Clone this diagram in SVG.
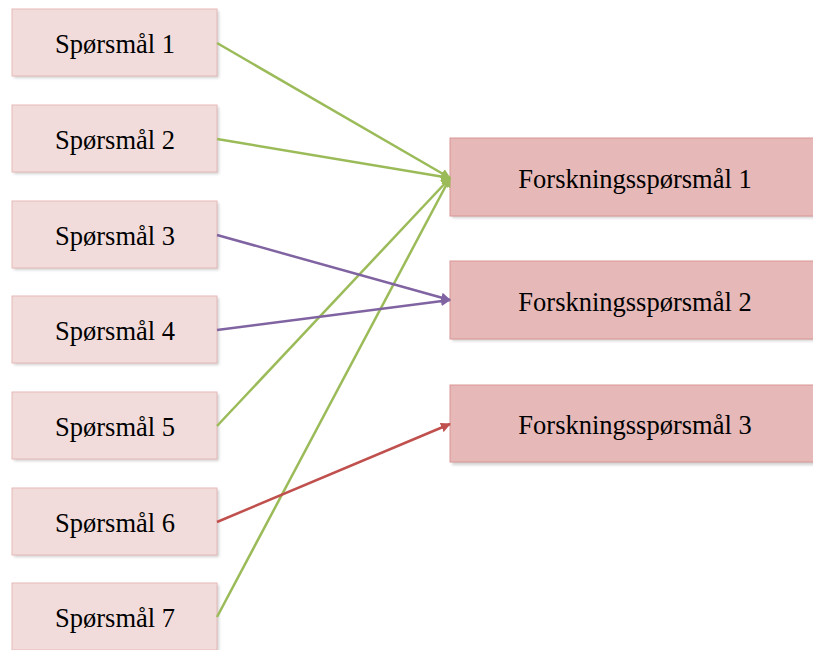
<svg xmlns="http://www.w3.org/2000/svg" width="813" height="650" viewBox="0 0 813 650">
<style>
.q rect.b{fill:#f2dcdb;stroke:#e6b9b8;stroke-width:1}
.f rect.b{fill:#e6b9b8;stroke:#d99694;stroke-width:1}
rect.s{fill:#000;opacity:0.18}
text{font-family:"Liberation Serif","Times New Roman",serif;font-size:26.5px;fill:#000;text-anchor:middle;dominant-baseline:central}
.c line{stroke-width:2.5}
</style>
<defs>
<filter id="sh" x="-10%" y="-10%" width="120%" height="130%"><feGaussianBlur stdDeviation="1.5"/></filter>
<marker id="mg" viewBox="0 0 10 10" refX="9" refY="5" markerWidth="4" markerHeight="4" orient="auto" markerUnits="strokeWidth"><path d="M0,0 L10,5 L0,10 z" fill="#9bbb59"/></marker>
<marker id="mp" viewBox="0 0 10 10" refX="9" refY="5" markerWidth="4" markerHeight="4" orient="auto" markerUnits="strokeWidth"><path d="M0,0 L10,5 L0,10 z" fill="#8064a2"/></marker>
<marker id="mr" viewBox="0 0 10 10" refX="9" refY="5" markerWidth="4" markerHeight="4" orient="auto" markerUnits="strokeWidth"><path d="M0,0 L10,5 L0,10 z" fill="#c0504d"/></marker>
</defs>
<g id="q1" class="q"><rect class="s" x="14" y="11" width="205" height="67" filter="url(#sh)"/><rect class="b" x="12" y="9" width="205" height="67"/><text x="115" y="44">Spørsmål 1</text></g>
<g id="q2" class="q"><rect class="s" x="14" y="107" width="205" height="67" filter="url(#sh)"/><rect class="b" x="12" y="105" width="205" height="67"/><text x="115" y="140">Spørsmål 2</text></g>
<g id="q3" class="q"><rect class="s" x="14" y="203" width="205" height="67" filter="url(#sh)"/><rect class="b" x="12" y="201" width="205" height="67"/><text x="115" y="236">Spørsmål 3</text></g>
<g id="q4" class="q"><rect class="s" x="14" y="298" width="205" height="67" filter="url(#sh)"/><rect class="b" x="12" y="296" width="205" height="67"/><text x="115" y="331">Spørsmål 4</text></g>
<g id="q5" class="q"><rect class="s" x="14" y="394" width="205" height="67" filter="url(#sh)"/><rect class="b" x="12" y="392" width="205" height="67"/><text x="115" y="427">Spørsmål 5</text></g>
<g id="q6" class="q"><rect class="s" x="14" y="490" width="205" height="67" filter="url(#sh)"/><rect class="b" x="12" y="488" width="205" height="67"/><text x="115" y="523">Spørsmål 6</text></g>
<g id="q7" class="q"><rect class="s" x="14" y="585" width="205" height="67" filter="url(#sh)"/><rect class="b" x="12" y="583" width="205" height="67"/><text x="115" y="618">Spørsmål 7</text></g>
<g id="f1" class="f"><rect class="s" x="452" y="140" width="370" height="78" filter="url(#sh)"/><rect class="b" x="450" y="138" width="370" height="78"/><text x="635" y="179">Forskningsspørsmål 1</text></g>
<g id="f2" class="f"><rect class="s" x="452" y="263" width="370" height="78" filter="url(#sh)"/><rect class="b" x="450" y="261" width="370" height="78"/><text x="635" y="302">Forskningsspørsmål 2</text></g>
<g id="f3" class="f"><rect class="s" x="452" y="387" width="370" height="78" filter="url(#sh)"/><rect class="b" x="450" y="385" width="370" height="77"/><text x="635" y="425">Forskningsspørsmål 3</text></g>
<g id="connectors" class="c">
<line x1="217" y1="43" x2="450" y2="178" stroke="#9bbb59" marker-end="url(#mg)"/>
<line x1="217" y1="139" x2="450" y2="178" stroke="#9bbb59" marker-end="url(#mg)"/>
<line x1="217" y1="426" x2="450" y2="178" stroke="#9bbb59" marker-end="url(#mg)"/>
<line x1="217" y1="617" x2="450" y2="178" stroke="#9bbb59" marker-end="url(#mg)"/>
<line x1="217" y1="235" x2="450" y2="300" stroke="#8064a2" marker-end="url(#mp)"/>
<line x1="217" y1="330" x2="450" y2="300" stroke="#8064a2" marker-end="url(#mp)"/>
<line x1="217" y1="522" x2="450" y2="424" stroke="#c0504d" marker-end="url(#mr)"/>
</g>
</svg>
